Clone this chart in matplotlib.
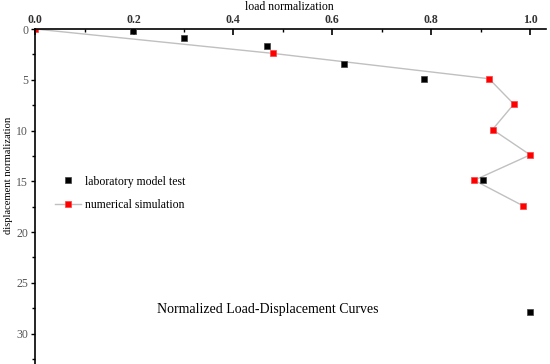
import matplotlib
matplotlib.use("Agg")
import matplotlib.pyplot as plt
from matplotlib.ticker import MultipleLocator, FormatStrFormatter

# data
lab_load = [0.197, 0.300, 0.469, 0.624, 0.785, 0.905, 1.0]
lab_disp = [0.15, 0.85, 1.7, 3.4, 4.9, 14.9, 27.9]
sim_load = [0.0, 0.480, 0.917, 0.967, 0.924, 1.0, 0.887, 0.985]
sim_disp = [0.0, 2.4, 4.9, 7.4, 9.9, 12.4, 14.9, 17.4]
x_ticks = [0.0, 0.2, 0.4, 0.6, 0.8, 1.0]
y_ticks = [0, 5, 10, 15, 20, 25, 30]

W, H = 550, 364
fig = plt.figure(figsize=(5.5, 3.64), dpi=100)
ax_h = 1 - 29 / H
ax = fig.add_axes([35 / W, 0.0, (546 - 35) / W, ax_h])

serif = ["Liberation Serif", "DejaVu Serif"]

ax.plot(sim_load, sim_disp, color="#c0c0c0", lw=1.0, marker="s", ms=5,
        mfc="red", mec="#ff4040", mew=0.5, label="numerical simulation", zorder=2)
ax.plot(lab_load, lab_disp, ls="none", marker="s", ms=5,
        mfc="black", mec="#404040", mew=0.5, label="laboratory model test", zorder=3)

ax.set_xlim(0, 1.032)
ax.set_ylim(33.0, 0)

ax.xaxis.tick_top()
ax.xaxis.set_label_position("top")
ax.set_xticks(x_ticks)
ax.xaxis.set_minor_locator(MultipleLocator(0.1))
ax.xaxis.set_major_formatter(FormatStrFormatter("%.1f"))
ax.set_yticks(y_ticks)
ax.yaxis.set_minor_locator(MultipleLocator(2.5))

ax.tick_params(axis="x", which="major", direction="in", length=4, width=1.2,
               pad=2.5, labelsize=8.5, labelcolor="#333333")
ax.tick_params(axis="x", which="minor", direction="in", length=2, width=1.0)
ax.tick_params(axis="y", which="major", direction="out", length=3, width=1.0,
               pad=2, labelsize=8.5, labelcolor="#555555")
ax.tick_params(axis="y", which="minor", direction="out", length=2, width=1.0)
for lab in ax.get_xticklabels() + ax.get_yticklabels():
    lab.set_fontfamily(serif)
for lab in ax.get_xticklabels():
    lab.set_fontweight("bold")

for s in ["right", "bottom"]:
    ax.spines[s].set_visible(False)
ax.spines["top"].set_linewidth(1.2)
ax.spines["left"].set_linewidth(1.2)

ax.set_xlabel("load normalization", fontsize=8.5, family=serif, va="center")
ax.xaxis.set_label_coords((289 - 35) / 511, 1 + 22 / (ax_h * H))
fig.text(9 / W, 1 - 175 / H, "displacement normalization", rotation=90,
         ha="center", va="center", fontsize=7.6, family=serif)

handles, labels = ax.get_legend_handles_labels()
leg = ax.legend(handles[::-1], labels[::-1], loc="upper left",
                bbox_to_anchor=(44 / W, 1 - 165 / H), bbox_transform=fig.transFigure,
                frameon=False, prop={"family": serif, "size": 8.5},
                handlelength=2.2, handletextpad=0.4, labelspacing=1.0)

fig.text(267.5 / W, 1 - 310 / H, "Normalized Load-Displacement Curves",
         ha="center", va="center", fontsize=10, family=serif)

fig.savefig("out.png", dpi=100)
